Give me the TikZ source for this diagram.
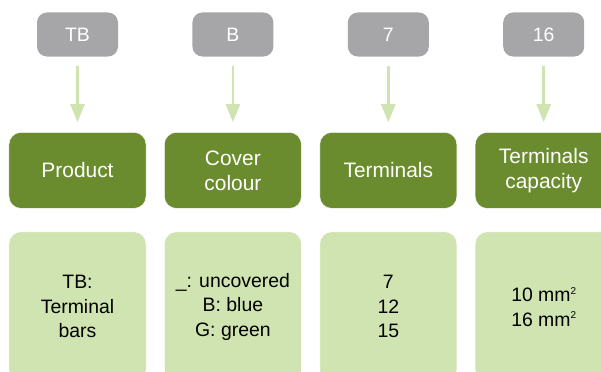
\documentclass[tikz,border=0pt]{standalone}
\usepackage{fontspec}
\setmainfont{Liberation Sans}
\usetikzlibrary{positioning,arrows.meta}
\definecolor{codeGray}{HTML}{A6A6A8}
\definecolor{headGreen}{HTML}{6A8C2F}
\definecolor{paleGreen}{HTML}{CFE4B1}
\newcommand{\sqmm}{mm\raisebox{0.75ex}{\fontsize{10}{10}\selectfont 2}}

\begin{document}
\begin{tikzpicture}[
  x=1bp, y=1bp,
  every node/.style={font=\fontsize{19.5}{24.5}\selectfont},
  code/.style={rectangle, rounded corners=10bp, fill=codeGray, text=white,
    minimum width=81bp, minimum height=44bp, inner sep=0pt},
  head/.style={rectangle, rounded corners=12bp, draw=white, thin, fill=headGreen, text=white,
    minimum width=137bp, minimum height=76bp, align=center, inner sep=0pt,
    font=\fontsize{21}{25}\selectfont},
  info/.style={rectangle, rounded corners=12bp, draw=white, thin, fill=paleGreen, text=black,
    minimum width=137bp, minimum height=150bp, align=center, inner sep=0pt},
  flow/.style={-{Triangle[length=18bp, width=14bp]}, line width=2.7bp, paleGreen},
]
\useasboundingbox (0,0) rectangle (601,371);
\clip (0,0) rectangle (601,371);

% Code letters
\node[code] at (77.5,336.5) (c-tb) {TB};
\node[code, right=74bp of c-tb] (c-b) {B};
\node[code, right=74bp of c-b] (c-7) {7};
\node[code, right=74bp of c-7] (c-16) {16};

% Field names
\node[head, below=75.5bp of c-tb] (product) {Product};
\node[head, below=75.5bp of c-b] (cover) {Cover\\colour};
\node[head, below=75.5bp of c-7] (terminals) {Terminals};
\node[head, below=75.5bp of c-16] (capacity) {Terminals\\capacity};

% Options
\node[info, below=23bp of product] (opt-product) {TB:\\Terminal\\bars};
\node[info, below=23bp of cover] (opt-cover) {\_: uncovered\\B: blue\\G: green};
\node[info, below=23bp of terminals] (opt-terminals) {7\\12\\15};
\node[info, below=23bp of capacity] (opt-capacity) {10 \sqmm\\16 \sqmm};

% Arrows from codes to fields
\draw[flow] ([yshift=-9.5bp]c-tb.south) -- ([yshift=10bp]product.north);
\draw[flow] ([yshift=-9.5bp]c-b.south) -- ([yshift=10bp]cover.north);
\draw[flow] ([yshift=-9.5bp]c-7.south) -- ([yshift=10bp]terminals.north);
\draw[flow] ([yshift=-9.5bp]c-16.south) -- ([yshift=10bp]capacity.north);
\end{tikzpicture}
\end{document}
